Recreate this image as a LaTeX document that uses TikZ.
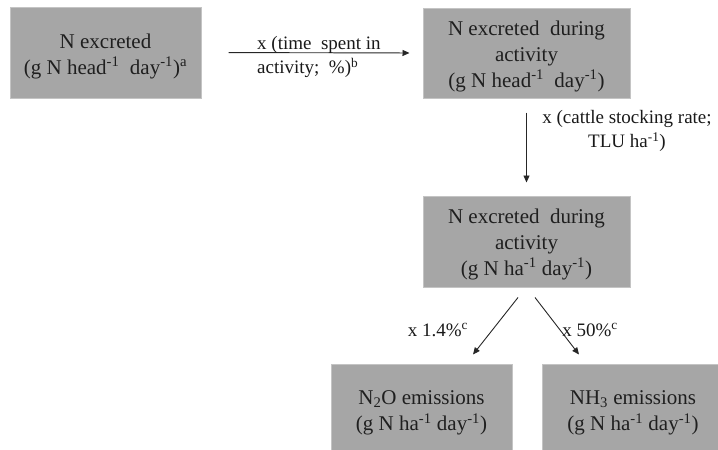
\documentclass[tikz,border=0pt]{standalone}
\usepackage{fontspec}
\setmainfont{Liberation Serif}
\usetikzlibrary{arrows.meta}
\definecolor{boxfill}{HTML}{A6A6A6}
\definecolor{boxline}{HTML}{C4C4C4}
\tikzset{
  box/.style={rectangle, draw=boxline, line width=1pt, fill=boxfill, inner sep=0pt},
  boxtext/.style={inner sep=0pt, align=center, text=black!88, font=\fontsize{21}{26}\selectfont},
  lab/.style={inner sep=0pt, text=black!90, font=\fontsize{19}{24}\selectfont},
  arr/.style={draw=black!85, line width=0.9pt, -{Triangle[length=7pt,width=6pt]}}
}
\begin{document}
\begin{tikzpicture}[x=1pt,y=-1pt]
\useasboundingbox (0,0) rectangle (718,450);
\node[box, minimum width=191pt, minimum height=91pt] (b1) at (105.5,52.5) {};
\node[box, minimum width=207pt, minimum height=90pt] (b2) at (526.5,53) {};
\node[box, minimum width=207pt, minimum height=91pt] (b3) at (526.5,241.5) {};
\node[box, minimum width=181pt, minimum height=96pt] (b4) at (421.5,412) {};
\node[box, minimum width=182pt, minimum height=96pt] (b5) at (633,412) {};

\node[boxtext] (t1) at ([yshift=-3.5pt]b1.center)
  {N excreted\\(g N head\textsuperscript{-1}\ \ day\textsuperscript{-1})\textsuperscript{a}};
\node[boxtext] (t2) at ([yshift=-3.5pt]b2.center)
  {N excreted\ \ during\\activity\\(g N head\textsuperscript{-1}\ \ day\textsuperscript{-1})};
\node[boxtext] (t3) at ([yshift=-3pt]b3.center)
  {N excreted\ \ during\\activity\\(g N ha\textsuperscript{-1} day\textsuperscript{-1})};
\node[boxtext] (t4) at ([yshift=-1pt]b4.center)
  {N\textsubscript{2}O emissions\\(g N ha\textsuperscript{-1} day\textsuperscript{-1})};
\node[boxtext] (t5) at ([yshift=-1pt]b5.center)
  {NH\textsubscript{3} emissions\\(g N ha\textsuperscript{-1} day\textsuperscript{-1})};

\draw[arr, shorten <=27pt, shorten >=13pt] (b1.east) -- (b2.west);
\draw[arr, shorten <=14pt, shorten >=13pt] (b2.south) -- (b3.north);
\draw[arr] ([xshift=-8.5pt,yshift=-10pt]b3.south) -- ([xshift=51.5pt,yshift=9pt]b4.north);
\draw[arr] ([xshift=8.5pt,yshift=-10pt]b3.south) -- ([xshift=-54pt,yshift=9pt]b5.north);

\node[lab, anchor=west, align=left] (l1) at (257,57)
  {x (time\ \ spent in\\activity;\ \ \%)\textsuperscript{b}};
\node[lab, align=center] (l2) at (627,131)
  {x (cattle stocking rate;\\TLU ha\textsuperscript{-1})};
\node[lab] (l3) at (438,330) {x 1.4\%\textsuperscript{c}};
\node[lab] (l4) at (590,330) {x 50\%\textsuperscript{c}};
\end{tikzpicture}
\end{document}
